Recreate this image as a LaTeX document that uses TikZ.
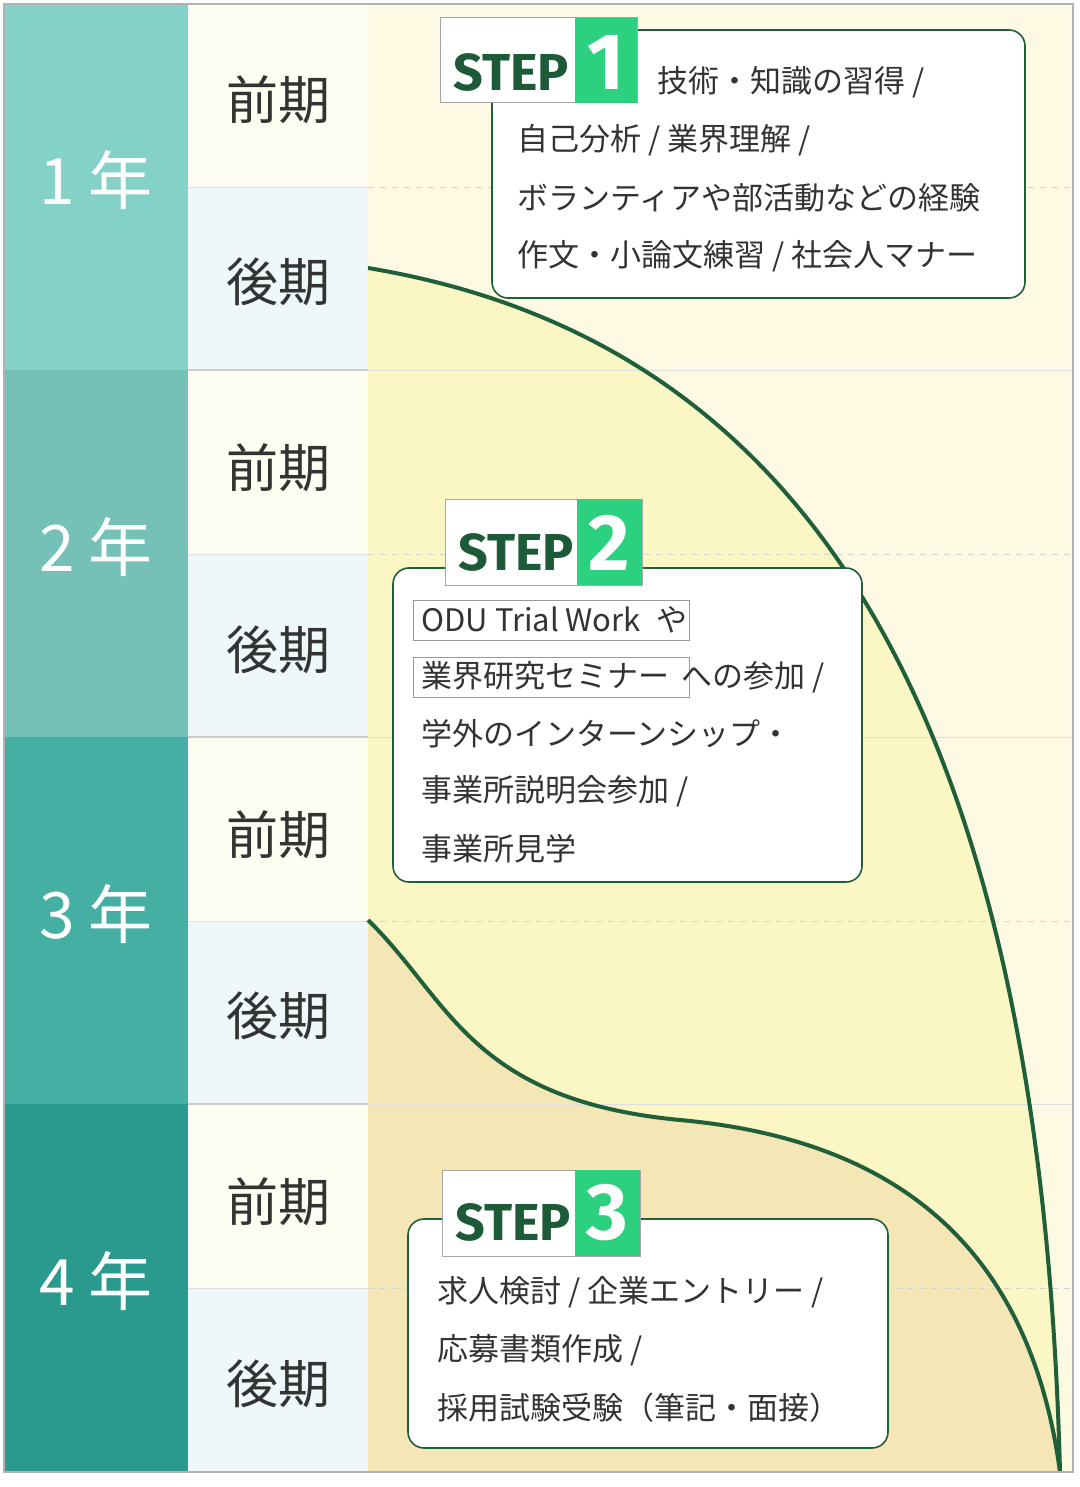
\documentclass[tikz,border=0pt]{standalone}
\usepackage{fontspec}
\newfontfamily\jp{Noto Sans CJK JP}
\newfontfamily\stepf{Fira Sans Bold}
\definecolor{yA}{HTML}{84D1C8}\definecolor{yB}{HTML}{75C1B8}
\definecolor{yC}{HTML}{45AFA4}\definecolor{yD}{HTML}{2A9A8E}
\definecolor{zen}{HTML}{FDFDF1}\definecolor{kou}{HTML}{EEF8FB}
\definecolor{bgR}{HTML}{FDF9E2}\definecolor{yel}{HTML}{FBF7C4}
\definecolor{tan}{HTML}{F5E7B5}\definecolor{dg}{HTML}{1F5F3A}
\definecolor{gr}{HTML}{2BD17E}\definecolor{txt}{HTML}{333333}
\definecolor{stepc}{HTML}{1D5A38}
\tikzset{
 year/.style={text=white,font=\jp\fontsize{32}{36}\selectfont},
 term/.style={text=txt,font=\jp\fontsize{26}{30}\selectfont},
 body/.style={text=txt,font=\jp\fontsize{15.5}{18}\selectfont,anchor=west,inner sep=0},
 stepbox/.style={draw=dg,line width=0.8pt,rounded corners=8pt,fill=white},
 tab/.style={draw=gray!70,fill=white,line width=0.5pt},
 grn/.style={fill=gr},
 steptxt/.style={text=stepc,font=\stepf\fontsize{26}{30}\selectfont,inner sep=0},
 stepnum/.style={text=white,font=\stepf\fontsize{40}{44}\selectfont,inner sep=0},
 hl/.style={draw=gray!80,line width=0.5pt},
 curve/.style={draw=dg,line width=2pt},
 dsh/.style={draw=gray!35,dashed,line width=0.5pt}
}
\begin{document}
\begin{tikzpicture}[x=0.5pt,y=-0.5pt]
\useasboundingbox (0,0) rectangle (1080,1487);
\fill[white] (0,0) rectangle (1080,1487);
% left column
\fill[yA] (4,4) rectangle (188,370);
\fill[yB] (4,370) rectangle (188,737);
\fill[yC] (4,737) rectangle (188,1104);
\fill[yD] (4,1104) rectangle (188,1472);
\foreach \a/\b in {4/188,370/554,737/921,1104/1288}{\fill[zen] (188,\a) rectangle (368,\b);}
\foreach \a/\b in {188/370,554/737,921/1104,1288/1472}{\fill[kou] (188,\a) rectangle (368,\b);}
\foreach \y in {188,554,921,1288}{\draw[gray!25,line width=0.5pt] (188,\y)--(368,\y);}
\foreach \y in {370,737,1104}{\draw[gray!40,line width=0.6pt] (188,\y)--(1073,\y);}
% right area
\fill[bgR] (368,4) rectangle (1073,1472);
\fill[yel] (368,268) .. controls (800,340) and (1040,700) .. (1060,1472) -- (368,1472) -- cycle;
\fill[tan] (368,920) .. controls (450,1000) and (470,1100) .. (680,1120) .. controls (900,1140) and (1030,1250) .. (1060,1472) -- (368,1472) -- cycle;
\foreach \y in {188,554,921,1288}{\draw[dsh] (368,\y)--(1073,\y);}
\foreach \y in {370,737,1104}{\draw[gray!25,line width=0.5pt] (368,\y)--(1073,\y);}
\draw[curve] (368,268) .. controls (800,340) and (1040,700) .. (1060,1472);
\draw[curve] (368,920) .. controls (450,1000) and (470,1100) .. (680,1120) .. controls (900,1140) and (1030,1250) .. (1060,1472);
\draw[gray!60,line width=0.6pt] (4,4) rectangle (1073,1472);
% labels
\node[year] (y1) at (96,180) {1 年};
\node[year] (y2) at (96,547) {2 年};
\node[year] (y3) at (96,914) {3 年};
\node[year] (y4) at (96,1281) {4 年};
\foreach \y/\n in {100/a,468/b,835/c,1202/d}{\node[term] (z\n) at (278,\y) {前期};}
\foreach \y/\n in {282/a,650/b,1016/c,1384/d}{\node[term] (k\n) at (278,\y) {後期};}
% STEP 1
\draw[stepbox] (492,30) rectangle (1025,298);
\draw[tab] (440,18) rectangle (637,103);
\fill[grn] (575,18) rectangle (637,103);
\node[steptxt] (s1) at (511,72) {STEP};
\node[stepnum] (n1) at (606,62) {1};
\node[body] (t11) at (657,82) {技術・知識の習得 /};
\node[body] (t12) at (517,140) {自己分析 / 業界理解 /};
\node[body] (t13) at (517,198) {ボランティアや部活動などの経験};
\node[body] (t14) at (517,256) {作文・小論文練習 / 社会人マナー};
% STEP 2
\draw[stepbox] (393,568) rectangle (862,882);
\draw[tab] (445,499) rectangle (642,585);
\fill[grn] (577,499) rectangle (642,585);
\node[steptxt] (s2) at (516,552) {STEP};
\node[stepnum] (n2) at (609,543) {2};
\draw[hl] (413,600) rectangle (689,640);
\draw[hl] (413,657) rectangle (689,697);
\node[body] (t21) at (421,620) {ODU Trial Work\hspace{8pt}や};
\node[body] (t22) at (421,677) {業界研究セミナー\hspace{6pt}への参加 /};
\node[body] (t23) at (421,734) {学外のインターンシップ・};
\node[body] (t24) at (421,791) {事業所説明会参加 /};
\node[body] (t25) at (421,849) {事業所見学};
% STEP 3
\draw[stepbox] (408,1219) rectangle (888,1448);
\draw[tab] (442,1170) rectangle (640,1256);
\fill[grn] (575,1170) rectangle (640,1256);
\node[steptxt] (s3) at (513,1222) {STEP};
\node[stepnum] (n3) at (607,1213) {3};
\node[body] (t31) at (437,1292) {求人検討 / 企業エントリー /};
\node[body] (t32) at (437,1350) {応募書類作成 /};
\node[body] (t33) at (437,1408) {採用試験受験（筆記・面接）};
\end{tikzpicture}
\end{document}
